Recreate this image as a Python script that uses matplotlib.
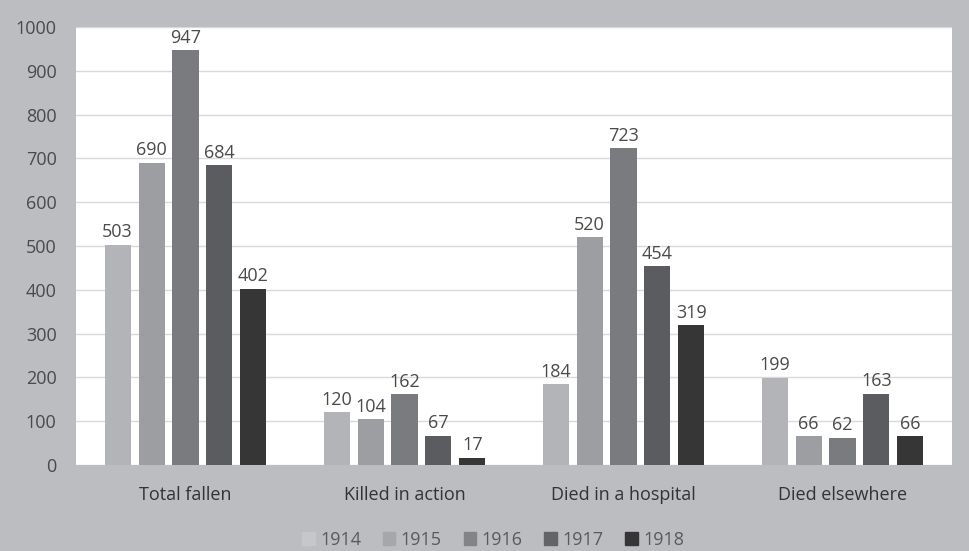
import matplotlib
matplotlib.use("Agg")
import matplotlib.pyplot as plt
import numpy as np

plt.rcParams['font.family'] = ['Open Sans', 'DejaVu Sans']

# data
categories = ['Total fallen', 'Killed in action', 'Died in a hospital', 'Died elsewhere']
years = ['1914', '1915', '1916', '1917', '1918']
values = {
    '1914': [503, 120, 184, 199],
    '1915': [690, 104, 520, 66],
    '1916': [947, 162, 723, 62],
    '1917': [684, 67, 454, 163],
    '1918': [402, 17, 319, 66],
}
colors = ['#b3b4b8', '#9d9ea2', '#7a7b7f', '#5b5c5f', '#363636']
legend_colors = ['#c6c7cb', '#a6a7ab', '#838488', '#636467', '#363636']

bg = '#bcbdc1'
txt = '#4a4a4a'

fig = plt.figure(figsize=(9.69, 5.51), dpi=100, facecolor=bg)
ax = fig.add_axes([76/969, 1-465/551, 876/969, 438/551])
ax.set_facecolor('white')

x = np.arange(len(categories))
width = 0.119
step = 0.155
for i, y in enumerate(years):
    pos = x + (i - 2) * step
    ax.bar(pos, values[y], width, color=colors[i], zorder=3)
    for px, v in zip(pos, values[y]):
        ax.text(px, v + 8, str(v), ha='center', va='bottom', fontsize=13, color=txt, zorder=4)

ax.set_xlim(-0.5, 3.5)
ax.set_ylim(0, 1000)
ax.set_yticks(np.arange(0, 1001, 100))
ax.yaxis.grid(True, color='#d9d9d9', linewidth=1, zorder=0)
ax.tick_params(axis='y', length=0, labelsize=13, labelcolor=txt, pad=14)
ax.tick_params(axis='x', length=0, labelsize=13, labelcolor='#333333', pad=15)
ax.set_xticks(x)
ax.set_xticklabels(categories)
for s in ax.spines.values():
    s.set_visible(False)

handles = [plt.Rectangle((0, 0), 1, 1, color=c) for c in legend_colors]
fig.legend(handles, years, loc='center', bbox_to_anchor=(493/969, 1-540/551), ncol=5,
           frameon=False, fontsize=13, labelcolor='#5a5a5a', handlelength=0.7, handleheight=0.7,
           handletextpad=0.3, columnspacing=1.2)

fig.savefig('out.png', dpi=100, facecolor=bg)
